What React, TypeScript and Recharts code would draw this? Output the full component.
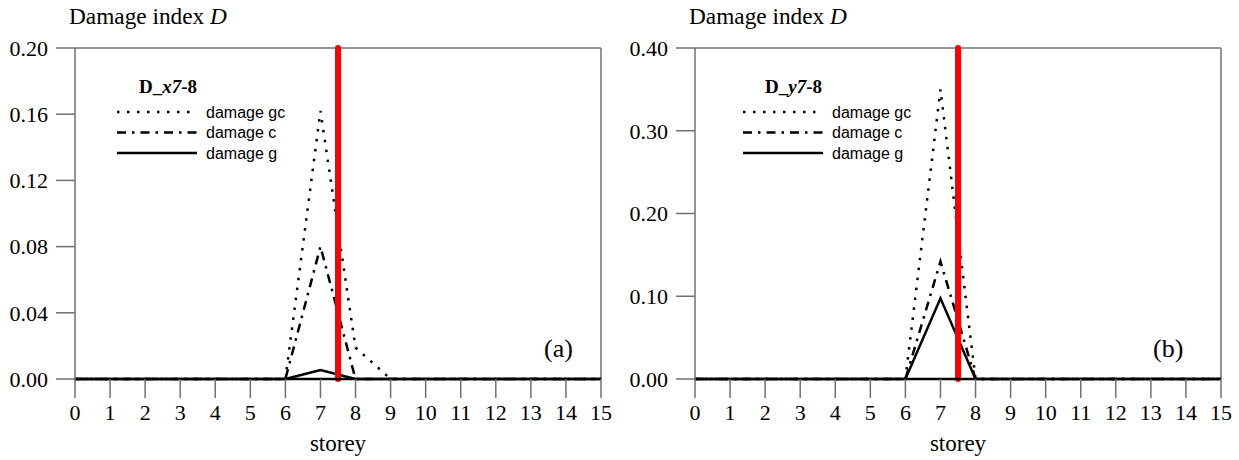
import { LineChart, Line, XAxis, YAxis, ReferenceLine, Legend } from 'recharts'

const storeys = [0, 1, 2, 3, 4, 5, 6, 7, 8, 9, 10, 11, 12, 13, 14, 15]

// panel (a) - x direction
const gcX = [0, 0, 0, 0, 0, 0, 0, 0.162, 0.019, 0, 0, 0, 0, 0, 0, 0]
const cX = [0, 0, 0, 0, 0, 0, 0, 0.080, 0, 0, 0, 0, 0, 0, 0, 0]
const gX = [0, 0, 0, 0, 0, 0, 0, 0.0054, 0, 0, 0, 0, 0, 0, 0, 0]

// panel (b) - y direction
const gcY = [0, 0, 0, 0, 0, 0, 0, 0.350, 0, 0, 0, 0, 0, 0, 0, 0]
const cY = [0, 0, 0, 0, 0, 0, 0, 0.142, 0, 0, 0, 0, 0, 0, 0, 0]
const gY = [0, 0, 0, 0, 0, 0, 0, 0.0975, 0, 0, 0, 0, 0, 0, 0, 0]

const yTicksX = [0, 0.04, 0.08, 0.12, 0.16, 0.2]
const yTicksY = [0, 0.1, 0.2, 0.3, 0.4]

const series = [
  { key: 'gc', name: 'damage gc', dash: '2.5 7.5' },
  { key: 'c', name: 'damage c', dash: '9 6 2.5 6' },
  { key: 'g', name: 'damage g', dash: undefined },
]

const serif = '"Liberation Serif", "Times New Roman", serif'
const sans = '"Liberation Sans", Arial, sans-serif'
const frame = '#707070'

function LegendBox({ dir }: { dir: string }) {
  return (
    <svg width={200} height={100} style={{ display: 'block' }}>
      <text x={29} y={23} fontFamily={serif} fontSize={19} fontWeight="bold" fill="#000">
        D_<tspan fontStyle="italic">{dir}7</tspan>-8
      </text>
      {series.map((s, i) => (
        <g key={s.key}>
          <line x1={7} x2={87} y1={42 + i * 20.5} y2={42 + i * 20.5} stroke="#000" strokeWidth={2.5}
            strokeDasharray={s.dash} />
          <text x={96} y={47.5 + i * 20.5} fontFamily={sans} fontSize={16} fill="#000">{s.name}</text>
        </g>
      ))}
    </svg>
  )
}

function Panel({ left, gc, c, g, yMax, yTicks, dir, tag, tagX, legendLeft }: any) {
  const data = storeys.map((s, i) => ({ storey: s, gc: gc[i], c: c[i], g: g[i] }))
  return (
    <div style={{ position: 'absolute', left, top: 0, width: 620, height: 460 }}>
      <LineChart width={620} height={460} data={data} margin={{ top: 48, right: 19, left: 0, bottom: 0 }}>
        <XAxis dataKey="storey" type="number" domain={[0, 15]} ticks={storeys} interval={0}
          height={81} tickSize={19} tickMargin={6}
          axisLine={{ stroke: '#000', strokeWidth: 2.5 }} tickLine={{ stroke: frame, strokeWidth: 1.5 }}
          tick={{ fill: '#000', fontFamily: serif, fontSize: 22 }}
          label={{ value: 'storey', position: 'insideBottom', offset: 9, fill: '#000', fontFamily: serif, fontSize: 23 }} />
        <YAxis type="number" domain={[0, yMax]} ticks={yTicks} interval={0} width={75}
          tickSize={19} tickMargin={8} tickFormatter={(v: number) => v.toFixed(2)}
          axisLine={{ stroke: frame, strokeWidth: 1.5 }} tickLine={{ stroke: frame, strokeWidth: 1.5 }}
          tick={{ fill: '#000', fontFamily: serif, fontSize: 22 }} />
        <ReferenceLine y={yMax} stroke={frame} strokeWidth={1.5} />
        <ReferenceLine x={15} stroke={frame} strokeWidth={1.5} />
        {series.map(s => (
          <Line key={s.key} type="linear" dataKey={s.key} name={s.name} stroke="#000" strokeWidth={2.5}
            strokeDasharray={s.dash} dot={false} activeDot={false} isAnimationActive={false} />
        ))}
        <ReferenceLine x={7.5} stroke="#ff0000" strokeWidth={6} strokeLinecap="round" />
        <Legend layout="vertical" align="center" verticalAlign="middle"
          wrapperStyle={{ left: legendLeft, top: 70, width: 200 }}
          content={() => <LegendBox dir={dir} />} />
      </LineChart>
      <div style={{ position: 'absolute', left: 69, top: 5, fontFamily: serif, fontSize: 23.3, lineHeight: '23px', whiteSpace: 'nowrap' }}>
        Damage index <i>D</i>
      </div>
      <div style={{ position: 'absolute', left: tagX, top: 336, fontFamily: serif, fontSize: 26, lineHeight: '26px' }}>
        {tag}
      </div>
    </div>
  )
}

export default function App() {
  return (
    <div style={{ position: 'absolute', left: 0, top: 0, width: 1239, height: 460, background: '#fff' }}>
      <Panel left={0} gc={gcX} c={cX} g={gX} yMax={0.2} yTicks={yTicksX} dir="x" tag="(a)" tagX={544} legendLeft={110} />
      <Panel left={620} gc={gcY} c={cY} g={gY} yMax={0.4} yTicks={yTicksY} dir="y" tag="(b)" tagX={533} legendLeft={116} />
    </div>
  )
}
